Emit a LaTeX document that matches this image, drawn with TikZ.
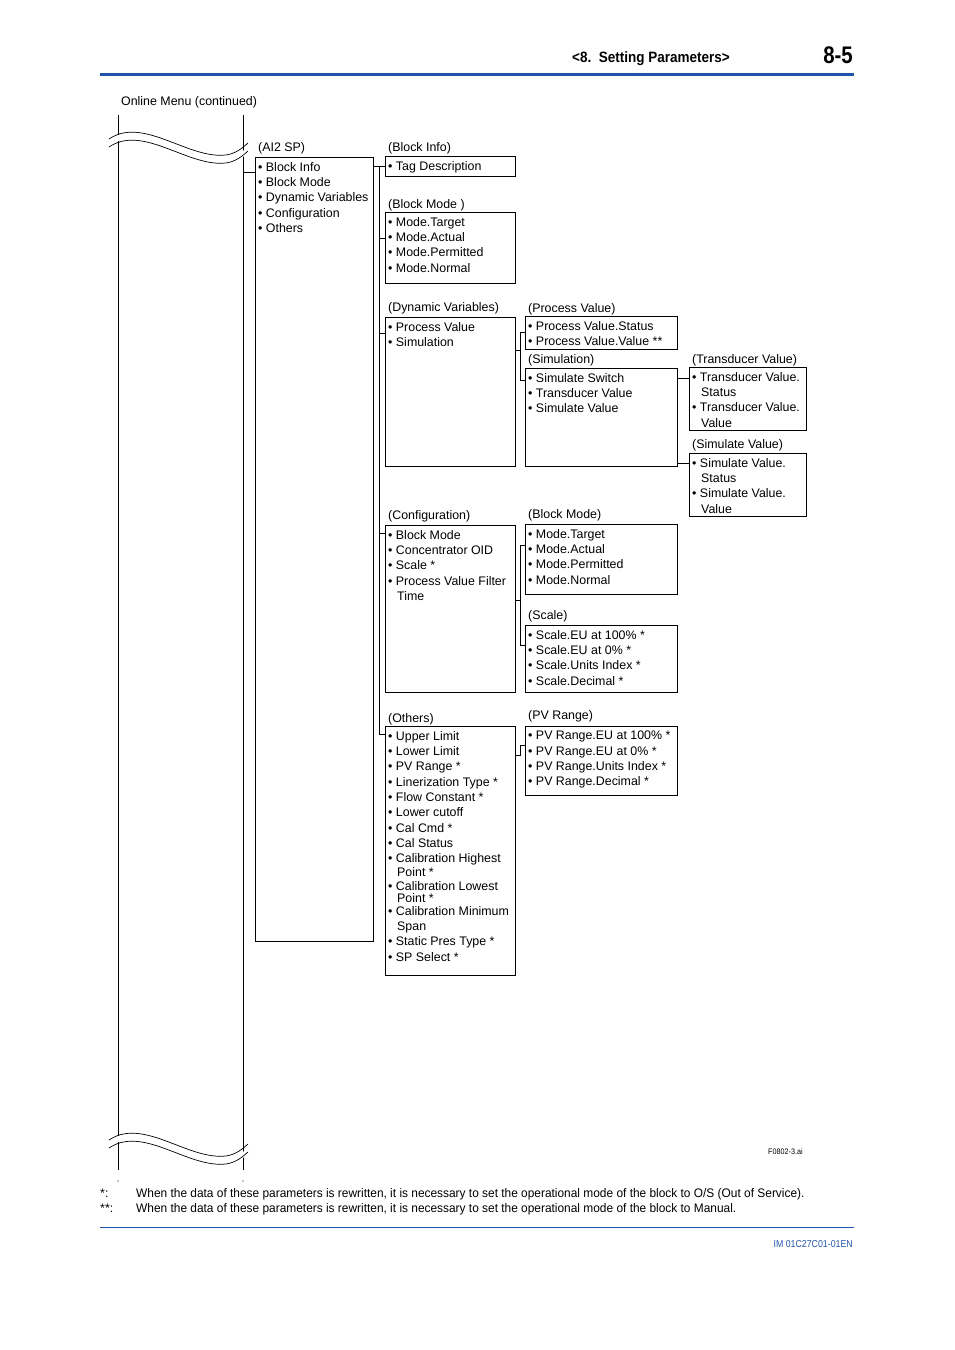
\documentclass[tikz,border=0pt]{standalone}
\usepackage{fontspec}
\setmainfont{Liberation Sans}
\definecolor{hblue}{RGB}{32,84,170}
\begin{document}
\begin{tikzpicture}[x=1pt,y=-1pt,
  box/.style={draw,line width=0.8pt,inner sep=0pt},
  items/.style={anchor=north west,inner sep=0pt,align=left,font=\fontsize{12.4}{15.3}\selectfont},
  lbl/.style={anchor=base west,inner sep=0pt,font=\fontsize{12.4}{14}\selectfont},
  conn/.style={line width=0.8pt}]
\useasboundingbox (0,0) rectangle (954,1350);
\newcommand{\ind}{\hspace*{9pt}}
% header
\node[anchor=base east,inner sep=0pt,font=\bfseries\fontsize{15}{18}\selectfont] (hdr) at (730,62) {\scalebox{0.9}[1]{<8.\ \ Setting Parameters>}};
\node[anchor=base east,inner sep=0pt,font=\bfseries\fontsize{24}{28}\selectfont] (pg) at (853,63) {\scalebox{0.85}[1]{8-5}};
\fill[hblue] (100,72.5) rectangle (854,75.5);
\node[lbl] (title) at (121,105) {Online Menu (continued)};
% main column
\draw[conn] (118,115) -- (118,1170);
\draw[conn] (243,115) -- (243,1170);
\fill[white] (105,141) .. controls (140,118) and (180,152) .. (215,157) .. controls (232,159) and (240,152) .. (250,147) -- (250,153) .. controls (240,158) and (232,165) .. (215,163) .. controls (180,158) and (140,124) .. (105,147) -- cycle;
\draw[line width=0.7pt] (109,139) .. controls (140,118) and (180,152) .. (215,155) .. controls (232,157) and (240,150) .. (248,143);
\draw[line width=0.7pt] (109,147) .. controls (140,126) and (180,160) .. (215,163) .. controls (232,165) and (240,158) .. (248,151);
\fill[white] (105,1142) .. controls (140,1119) and (180,1153) .. (215,1158) .. controls (232,1160) and (240,1153) .. (250,1148) -- (250,1154) .. controls (240,1159) and (232,1166) .. (215,1164) .. controls (180,1159) and (140,1125) .. (105,1148) -- cycle;
\draw[line width=0.7pt] (109,1140) .. controls (140,1119) and (180,1153) .. (215,1156) .. controls (232,1158) and (240,1151) .. (248,1144);
\draw[line width=0.7pt] (109,1148) .. controls (140,1127) and (180,1161) .. (215,1164) .. controls (232,1166) and (240,1159) .. (248,1152);
\fill (118,1181) circle (0.6); \fill (243,1181) circle (0.6);
% boxes
\newcommand{\mybox}[8]{%
  \node[box,anchor=north west,minimum width=#4-#2,minimum height=#5-#3] (#1) at (#2,#3) {};
  \node[lbl] (#1-l) at (#2+3,#6) {#7};
  \node[items] (#1-t) at (#2+3,#3+5) {#8};}
\mybox{ai}{255}{157}{373}{941}{151}{(AI2 SP)}{• Block Info\\• Block Mode\\• Dynamic Variables\\• Configuration\\• Others}
\mybox{tag}{385}{156}{515}{176}{151}{(Block Info)}{• Tag Description}
\mybox{bm}{385}{212}{515}{283}{208}{(Block Mode )}{• Mode.Target\\• Mode.Actual\\• Mode.Permitted\\• Mode.Normal}
\mybox{dyn}{385}{317}{515}{466}{311}{(Dynamic Variables)}{• Process Value\\• Simulation}
\mybox{cfg}{385}{525}{515}{692}{519}{(Configuration)}{• Block Mode\\• Concentrator OID\\• Scale *\\• Process Value Filter\\\ind Time}
\mybox{oth}{385}{726}{515}{975}{722}{(Others)}{• Upper Limit\\• Lower Limit\\• PV Range *\\• Linerization Type *\\• Flow Constant *\\• Lower cutoff\\• Cal Cmd *\\• Cal Status\\• Calibration Highest\\[-1.5pt]\ind Point *\\[-1.5pt]• Calibration Lowest\\[-2.5pt]\ind Point *\\[-3pt]• Calibration Minimum\\\ind Span\\• Static Pres Type *\\• SP Select *}
\mybox{pv}{525}{316}{677}{349}{312}{(Process Value)}{• Process Value.Status\\• Process Value.Value **}
\mybox{sim}{525}{368}{677}{466}{363}{(Simulation)}{• Simulate Switch\\• Transducer Value\\• Simulate Value}
\mybox{tv}{689}{367}{806}{430}{363}{(Transducer Value)}{• Transducer Value.\\\ind Status\\• Transducer Value.\\\ind Value}
\mybox{sv}{689}{453}{806}{516}{448}{(Simulate Value)}{• Simulate Value.\\\ind Status\\• Simulate Value.\\\ind Value}
\mybox{bm2}{525}{524}{677}{594}{518}{(Block Mode)}{• Mode.Target\\• Mode.Actual\\• Mode.Permitted\\• Mode.Normal}
\mybox{sc}{525}{625}{677}{692}{619}{(Scale)}{• Scale.EU at 100\% *\\• Scale.EU at 0\% *\\• Scale.Units Index *\\• Scale.Decimal *}
\mybox{pvr}{525}{726}{677}{795}{719}{(PV Range)}{• PV Range.EU at 100\% *\\• PV Range.EU at 0\% *\\• PV Range.Units Index *\\• PV Range.Decimal *}
% connectors
\draw[conn] (243,172) -- (ai.west |- 0,172);
\coordinate (j1) at (379,166);
\draw[conn] (ai.east |- 0,166) -- (j1) -- (379,734);
\draw[conn] (j1) -- (tag.west |- 0,166);
\draw[conn] (379,238) -- (bm.west |- 0,238);
\draw[conn] (379,333) -- (dyn.west |- 0,333);
\draw[conn] (379,533) -- (cfg.west |- 0,533);
\draw[conn] (379,734) -- (oth.west |- 0,734);
\draw[conn] (dyn.east |- 0,350) -- (520,350);
\draw[conn] (520,332) -- (520,380);
\draw[conn] (520,332) -- (pv.west |- 0,332);
\draw[conn] (520,380) -- (sim.west |- 0,380);
\draw[conn] (cfg.east |- 0,600) -- (520,600);
\draw[conn] (520,545) -- (520,645);
\draw[conn] (520,545) -- (bm2.west |- 0,545);
\draw[conn] (520,645) -- (sc.west |- 0,645);
\draw[conn] (oth.east |- 0,755) -- (520,755) -- (520,745) -- (pvr.west |- 0,745);
\draw[conn] (sim.east |- 0,378) -- (tv.west |- 0,378);
\draw[conn] (sim.east |- 0,463) -- (sv.west |- 0,463);
% footer
\node[anchor=base west,inner sep=0pt,font=\fontsize{8}{9}\selectfont] (fid) at (768,1154) {\scalebox{0.9}[1]{F0802-3.ai}};
\node[lbl] (f1a) at (100,1197) {*:};
\node[lbl] (f1) at (136,1197) {\scalebox{0.96}[1]{When the data of these parameters is rewritten, it is necessary to set the operational mode of the block to O/S (Out of Service).}};
\node[lbl] (f2a) at (100,1212) {**:};
\node[lbl] (f2) at (136,1212) {\scalebox{0.96}[1]{When the data of these parameters is rewritten, it is necessary to set the operational mode of the block to Manual.}};
\draw[hblue,line width=0.8pt] (100,1227) -- (854,1227);
\node[anchor=base east,inner sep=0pt,text=hblue,font=\fontsize{10}{12}\selectfont] (doc) at (853,1247) {\scalebox{0.88}[1]{IM 01C27C01-01EN}};
\end{tikzpicture}
\end{document}
